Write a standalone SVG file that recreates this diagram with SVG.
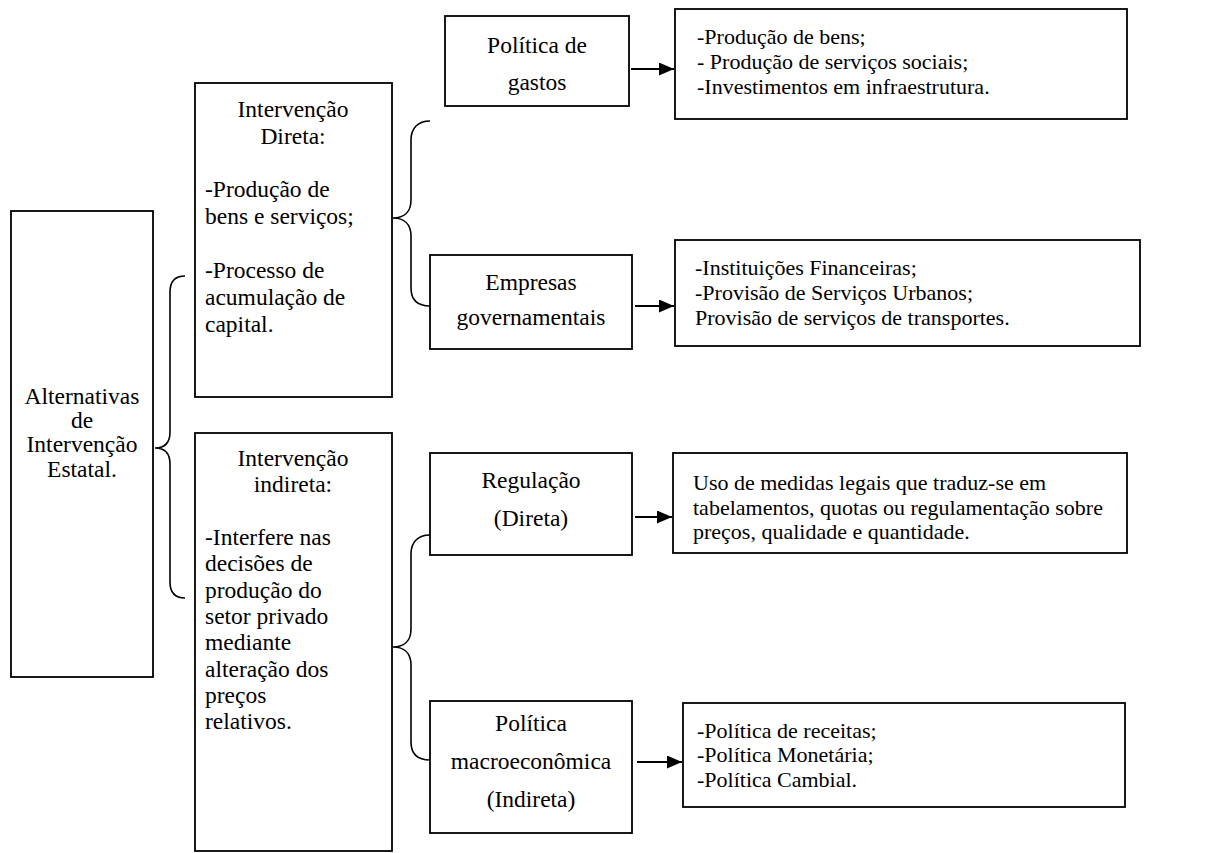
<svg xmlns="http://www.w3.org/2000/svg" width="1219" height="853" viewBox="0 0 1219 853">
<style>
.box{fill:#fff;stroke:#000;stroke-width:1.8}
.t{font-family:"Liberation Serif","Times New Roman",serif;fill:#000}
.l{font-size:23.5px}
.r{font-size:22px}
.c{text-anchor:middle}
.br{fill:none;stroke:#000;stroke-width:1.6}
.ar{fill:none;stroke:#000;stroke-width:1.8}
</style>
<defs>
<marker id="ah" viewBox="0 0 15 13" refX="15" refY="6.5" markerWidth="15" markerHeight="13" markerUnits="userSpaceOnUse" orient="auto">
<path d="M0,0 L15,6.5 L0,13 Z" fill="#000"/>
</marker>
</defs>
<rect width="1219" height="853" fill="#fff"/>

<g id="alternativas">
<rect class="box" x="11" y="211" width="142" height="466"/>
<text class="t l c" x="82" y="404">Alternativas</text>
<text class="t l c" x="82" y="428">de</text>
<text class="t l c" x="82" y="452">Intervenção</text>
<text class="t l c" x="82" y="477">Estatal.</text>
</g>

<g id="intervencao-direta">
<rect class="box" x="195" y="83" width="197" height="314"/>
<text class="t l c" x="293" y="117">Intervenção</text>
<text class="t l c" x="293" y="144">Direta:</text>
<text class="t l" x="205" y="197">-Produção de</text>
<text class="t l" x="205" y="224">bens e serviços;</text>
<text class="t l" x="205" y="278">-Processo de</text>
<text class="t l" x="205" y="305">acumulação de</text>
<text class="t l" x="205" y="332">capital.</text>
</g>

<g id="intervencao-indireta">
<rect class="box" x="195" y="433" width="197" height="418"/>
<text class="t l c" x="293" y="466">Intervenção</text>
<text class="t l c" x="293" y="492">indireta:</text>
<text class="t l" x="205" y="545">-Interfere nas</text>
<text class="t l" x="205" y="571">decisões de</text>
<text class="t l" x="205" y="598">produção do</text>
<text class="t l" x="205" y="624">setor privado</text>
<text class="t l" x="205" y="650">mediante</text>
<text class="t l" x="205" y="677">alteração dos</text>
<text class="t l" x="205" y="703">preços</text>
<text class="t l" x="205" y="729">relativos.</text>
</g>

<g id="politica-gastos">
<rect class="box" x="445" y="16" width="184" height="90"/>
<text class="t l c" x="537" y="53">Política de</text>
<text class="t l c" x="537" y="90">gastos</text>
</g>

<g id="empresas">
<rect class="box" x="430" y="255" width="202" height="94"/>
<text class="t l c" x="531" y="290">Empresas</text>
<text class="t l c" x="531" y="325">governamentais</text>
</g>

<g id="regulacao">
<rect class="box" x="430" y="453" width="202" height="102"/>
<text class="t l c" x="531" y="488">Regulação</text>
<text class="t l c" x="531" y="526">(Direta)</text>
</g>

<g id="politica-macro">
<rect class="box" x="430" y="701" width="202" height="132"/>
<text class="t l c" x="531" y="731">Política</text>
<text class="t l c" x="531" y="769">macroeconômica</text>
<text class="t l c" x="531" y="807">(Indireta)</text>
</g>

<g id="gastos-detalhe">
<rect class="box" x="675" y="9" width="452" height="110"/>
<text class="t r" x="697" y="44">-Produção de bens;</text>
<text class="t r" x="697" y="69">- Produção de serviços sociais;</text>
<text class="t r" x="697" y="94">-Investimentos em infraestrutura.</text>
</g>

<g id="empresas-detalhe">
<rect class="box" x="675" y="240" width="465" height="106"/>
<text class="t r" x="695" y="275">-Instituições Financeiras;</text>
<text class="t r" x="695" y="300">-Provisão de Serviços Urbanos;</text>
<text class="t r" x="695" y="325">Provisão de serviços de transportes.</text>
</g>

<g id="regulacao-detalhe">
<rect class="box" x="673" y="453" width="454" height="100"/>
<text class="t r" x="693" y="490">Uso de medidas legais que traduz-se em</text>
<text class="t r" x="693" y="515">tabelamentos, quotas ou regulamentação sobre</text>
<text class="t r" x="693" y="539">preços, qualidade e quantidade.</text>
</g>

<g id="macro-detalhe">
<rect class="box" x="683" y="703" width="442" height="104"/>
<text class="t r" x="697" y="738">-Política de receitas;</text>
<text class="t r" x="697" y="762">-Política Monetária;</text>
<text class="t r" x="697" y="787">-Política Cambial.</text>
</g>

<g id="connectors">
<path class="br" d="M185,276 C175,276 170,282 170,292 L170,432 C170,442 165,448 155,448 C165,448 170,454 170,464 L170,582 C170,592 175,598 185,598"/>
<path class="br" d="M430,121 C418,121 411,128 411,140 L411,200 C411,212 404,218 393,218 C404,218 411,224 411,236 L411,288 C411,300 418,306 430,306"/>
<path class="br" d="M430,535 C418,535 411,542 411,554 L411,629 C411,641 404,647 393,647 C404,647 411,653 411,665 L411,742 C411,754 418,760 430,760"/>
<line class="ar" x1="631" y1="69" x2="674" y2="69" marker-end="url(#ah)"/>
<line class="ar" x1="635" y1="306" x2="674" y2="306" marker-end="url(#ah)"/>
<line class="ar" x1="635" y1="517" x2="672" y2="517" marker-end="url(#ah)"/>
<line class="ar" x1="637" y1="762" x2="682" y2="762" marker-end="url(#ah)"/>
</g>
</svg>
